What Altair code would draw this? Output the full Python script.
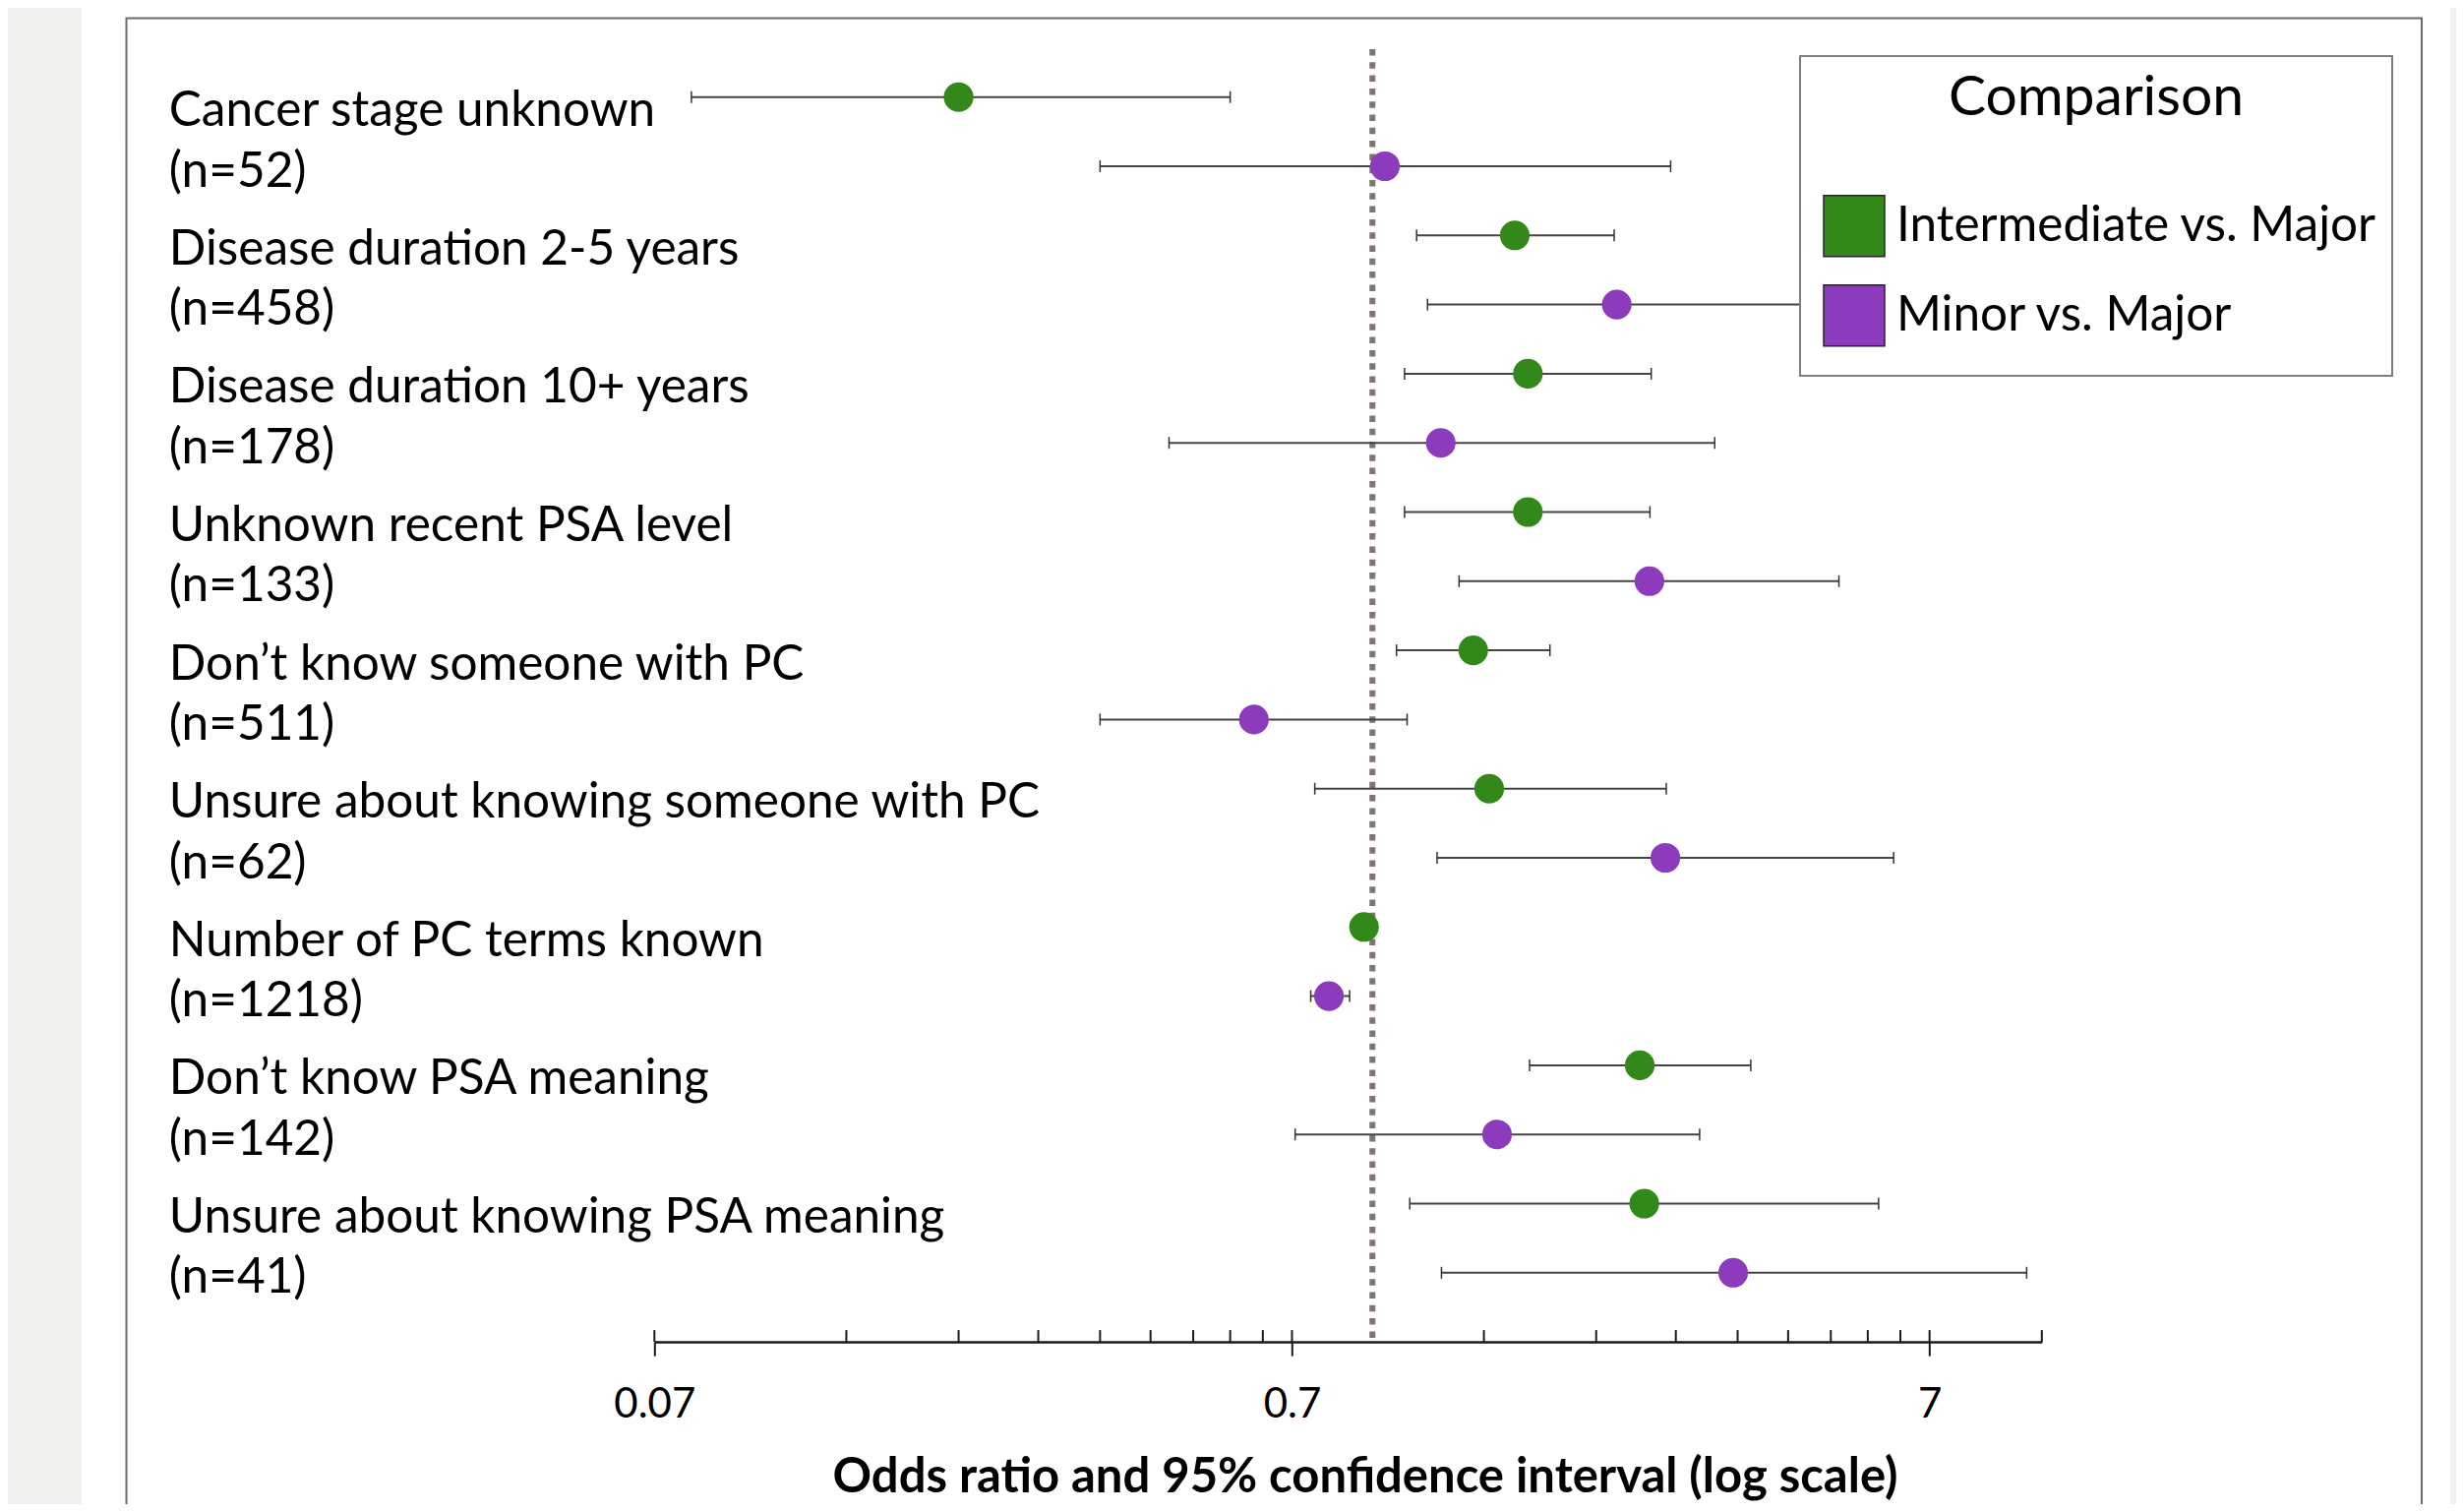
import altair as alt
import pandas as pd

# ---------------- data ----------------
categories = [
    "Cancer stage unknown",
    "Disease duration 2-5 years",
    "Disease duration 10+ years",
    "Unknown recent PSA level",
    "Don’t know someone with PC",
    "Unsure about knowing someone with PC",
    "Number of PC terms known",
    "Don’t know PSA meaning",
    "Unsure about knowing PSA meaning",
]
n_labels = ["(n=52)", "(n=458)", "(n=178)", "(n=133)", "(n=511)",
            "(n=62)", "(n=1218)", "(n=142)", "(n=41)"]

comparisons = ["Intermediate vs. Major", "Minor vs. Major"]
colors = ["#33881a", "#8b3bbb"]

inter_or = [0.210, 1.565, 1.641, 1.641, 1.347, 1.427, 0.908, 2.458, 2.498]
inter_lo = [0.080, 1.098, 1.051, 1.051, 1.021, 0.760, 0.885, 1.651, 1.071]
inter_hi = [0.560, 2.241, 2.562, 2.550, 1.777, 2.705, 0.932, 3.670, 5.823]

minor_or = [0.979, 2.262, 1.198, 2.545, 0.610, 2.696, 0.800, 1.468, 3.444]
minor_lo = [0.350, 1.142, 0.449, 1.280, 0.350, 1.182, 0.749, 0.708, 1.201]
minor_hi = [2.748, 4.500, 3.222, 5.046, 1.061, 6.148, 0.862, 3.051, 9.940]

ref_line = [0.936]
major_ticks = [0.07, 0.7, 7]
minor_ticks = [0.14, 0.21, 0.28, 0.35, 0.42, 0.49, 0.56, 0.63,
               1.4, 2.1, 2.8, 3.5, 4.2, 4.9, 5.6, 6.3, 10.5]
x_domain = [0.07, 10.5]

# ---------------- tables ----------------
rows = []
for i in range(len(categories)):
    rows.append({"comparison": comparisons[0], "slot": 2 * i,
                 "or": inter_or[i], "lo": inter_lo[i], "hi": inter_hi[i]})
    rows.append({"comparison": comparisons[1], "slot": 2 * i + 1,
                 "or": minor_or[i], "lo": minor_lo[i], "hi": minor_hi[i]})
df = pd.DataFrame(rows)

label_list = []
for c, n in zip(categories, n_labels):
    label_list += [c, n]
label_expr = "[" + ",".join("'" + s + "'" for s in label_list) + "][datum.value]"

ticks_df = pd.DataFrame({"t": major_ticks + minor_ticks})
ref_df = pd.DataFrame({"r": ref_line})
one = pd.DataFrame({"k": [0]})

PLOT_W = 1410.5
PLOT_H = 1335.7
FONT = "Lato"

xscale = alt.Scale(type="log", domain=x_domain, nice=False)
yscale = alt.Scale(domain=[-1, 18], reverse=True, nice=False, zero=False)

xaxis = alt.Axis(
    values=major_ticks, format="~g", grid=False, zindex=2,
    domain=True, domainColor="#1a1a1a", domainWidth=2.5,
    ticks=True, tickSize=14, tickWidth=2, tickColor="#1a1a1a",
    labelFont=FONT, labelFontSize=42, labelColor="black",
    labelPadding=29, labelFlush=False, labelOverlap=False,
    title="Odds ratio and 95% confidence interval (log scale)",
    titleFont=FONT, titleFontSize=49, titleFontWeight="bold",
    titleColor="black", titleX=722.2, titleY=152,
    titleBaseline="alphabetic", titleAlign="center")

yaxis = alt.Axis(
    values=list(range(18)), labelExpr=label_expr, zindex=2,
    domain=False, ticks=False, tickSize=0, grid=False, title=None,
    labelAlign="left", labelBaseline="alphabetic", labelPadding=494,
    labelOffset={"condition": {"test": "datum.value % 2 == 0", "value": 29},
                 "value": 20},
    labelFont=FONT, labelFontSize=49.5, labelColor="black",
    labelLimit=2000, labelOverlap=False)

# ---------------- decorative background ----------------
frame = alt.Chart(one).mark_rect(filled=False, stroke="#6b6b6b", strokeWidth=2).encode(
    x=alt.value(-536.8), x2=alt.value(1796.7), y=alt.value(-9.9), y2=alt.value(1540))
left_strip = alt.Chart(one).mark_rect(fill="#f0f0ef").encode(
    x=alt.value(-680), x2=alt.value(-582.3), y=alt.value(-40), y2=alt.value(1540))
right_strip = alt.Chart(one).mark_rect(fill="#f0f0ef").encode(
    x=alt.value(1825.7), x2=alt.value(1860), y=alt.value(-40), y2=alt.value(1540))

# ---------------- chart layers ----------------
ref = alt.Chart(ref_df).mark_rule(color="#7f7470", strokeWidth=6,
                                  strokeDash=[6.5, 6.8]).encode(
    x=alt.X("r:Q", scale=xscale, axis=xaxis),
    y=alt.value(21.6), y2=alt.value(PLOT_H))

up_ticks = alt.Chart(ticks_df).mark_rule(color="#1a1a1a", strokeWidth=2).encode(
    x=alt.X("t:Q", scale=xscale, axis=xaxis),
    y=alt.value(PLOT_H - 12), y2=alt.value(PLOT_H))

bars = alt.Chart(df).mark_rule(color="#444444", strokeWidth=2).encode(
    x=alt.X("lo:Q", scale=xscale, axis=xaxis),
    x2="hi:Q",
    y=alt.Y("slot:Q", scale=yscale, axis=yaxis))

cap_lo = alt.Chart(df).mark_tick(orient="vertical", size=12, thickness=1.5,
                                 color="#333333", opacity=1).encode(
    x=alt.X("lo:Q", scale=xscale, axis=xaxis),
    y=alt.Y("slot:Q", scale=yscale, axis=yaxis))
cap_hi = alt.Chart(df).mark_tick(orient="vertical", size=12, thickness=1.5,
                                 color="#333333", opacity=1).encode(
    x=alt.X("hi:Q", scale=xscale, axis=xaxis),
    y=alt.Y("slot:Q", scale=yscale, axis=yaxis))

points = alt.Chart(df).mark_circle(size=908, opacity=1).encode(
    x=alt.X("or:Q", scale=xscale, axis=xaxis),
    y=alt.Y("slot:Q", scale=yscale, axis=yaxis),
    color=alt.Color("comparison:N",
                    scale=alt.Scale(domain=comparisons, range=colors),
                    legend=alt.Legend(
                        title="Comparison",
                        orient="none",
                        legendX=1164.7, legendY=28.6,
                        direction="vertical", titleAnchor="middle",
                        titleFont=FONT, titleFontSize=57,
                        titleFontWeight="normal", titleColor="black",
                        titlePadding=55.2, titleLimit=2000,
                        labelFont=FONT, labelFontSize=49.5, labelColor="black",
                        labelOffset=11, labelLimit=2000,
                        symbolType="square", symbolSize=3844, symbolOffset=8,
                        symbolStrokeColor="#262626", symbolStrokeWidth=1.5,
                        symbolOpacity=1, rowPadding=0, clipHeight=91,
                        padding=15, strokeColor="#7f7f7f", fillColor="white")))

chart = alt.layer(
    left_strip, right_strip, frame, ref, up_ticks, bars, cap_lo, cap_hi, points
).properties(
    width=PLOT_W, height=PLOT_H,
    autosize=alt.AutoSizeParams(type="none"),
    padding={"left": 657.3, "top": 20.4, "right": 421.2, "bottom": 164.9},
    background="white",
).configure_view(stroke=None).configure_legend(strokeWidth=2)

chart.save("out.html", embed_options={"renderer": "svg", "actions": False})
